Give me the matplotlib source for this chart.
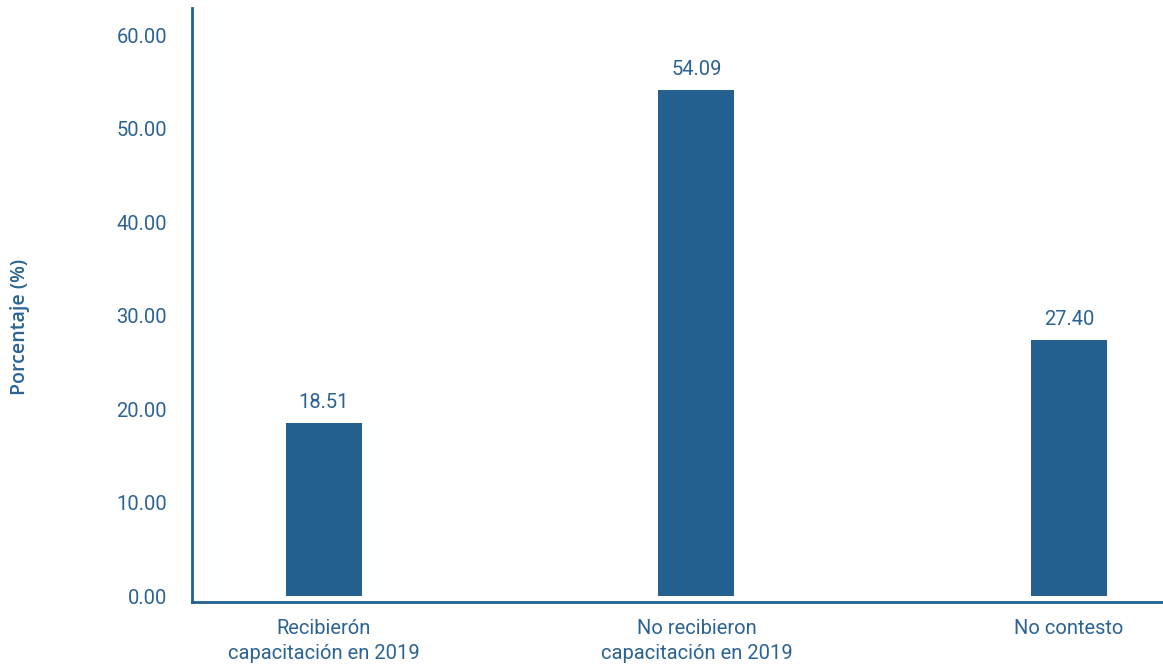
import matplotlib
matplotlib.use("Agg")
import matplotlib.pyplot as plt

# Capacitación recibida durante 2019
categorias = ["Recibierón\ncapacitación en 2019",
              "No recibieron\ncapacitación en 2019",
              "No contesto"]
porcentajes = [18.51, 54.09, 27.40]
ticks_y = [0, 10, 20, 30, 40, 50, 60]

azul = "#23608f"
texto = "#2b6393"

plt.rcParams['font.family'] = ['Roboto', 'DejaVu Sans']

fig = plt.figure(figsize=(11.63, 6.66), dpi=100)
ax = fig.add_axes([0.165, 0.096, 0.835, 0.892])

x = list(range(len(categorias)))
barras = ax.bar(x, porcentajes, width=0.204, color=azul, zorder=2)

for b, v in zip(barras, porcentajes):
    ax.annotate(f"{v:.2f}", (b.get_x() + b.get_width() / 2, v),
                xytext=(0, 8), textcoords="offset points",
                ha="center", va="bottom", fontsize=14.5, color=texto)

ax.set_xlim(-0.354, 2.252)
ax.set_ylim(-0.6, 62.9)
ax.set_xticks(x)
ax.set_xticklabels(categorias, fontsize=14.5, color=texto, linespacing=1.45)
ax.set_yticks(ticks_y)
ax.set_yticklabels([f"{t:.2f}" for t in ticks_y], fontsize=14.5, color=texto)
ax.tick_params(axis="both", length=0)
ax.tick_params(axis="y", pad=18)
ax.tick_params(axis="x", pad=12)

ax.set_ylabel("Porcentaje (%)", fontsize=14, color=texto,
              fontweight="semibold", family=['Open Sans', 'DejaVu Sans'])
ax.yaxis.set_label_coords(-0.167, 0.463)

for lado in ["top", "right"]:
    ax.spines[lado].set_visible(False)
for lado in ["left", "bottom"]:
    ax.spines[lado].set_color(azul)
    ax.spines[lado].set_linewidth(2)

plt.savefig("out.png", dpi=100)
